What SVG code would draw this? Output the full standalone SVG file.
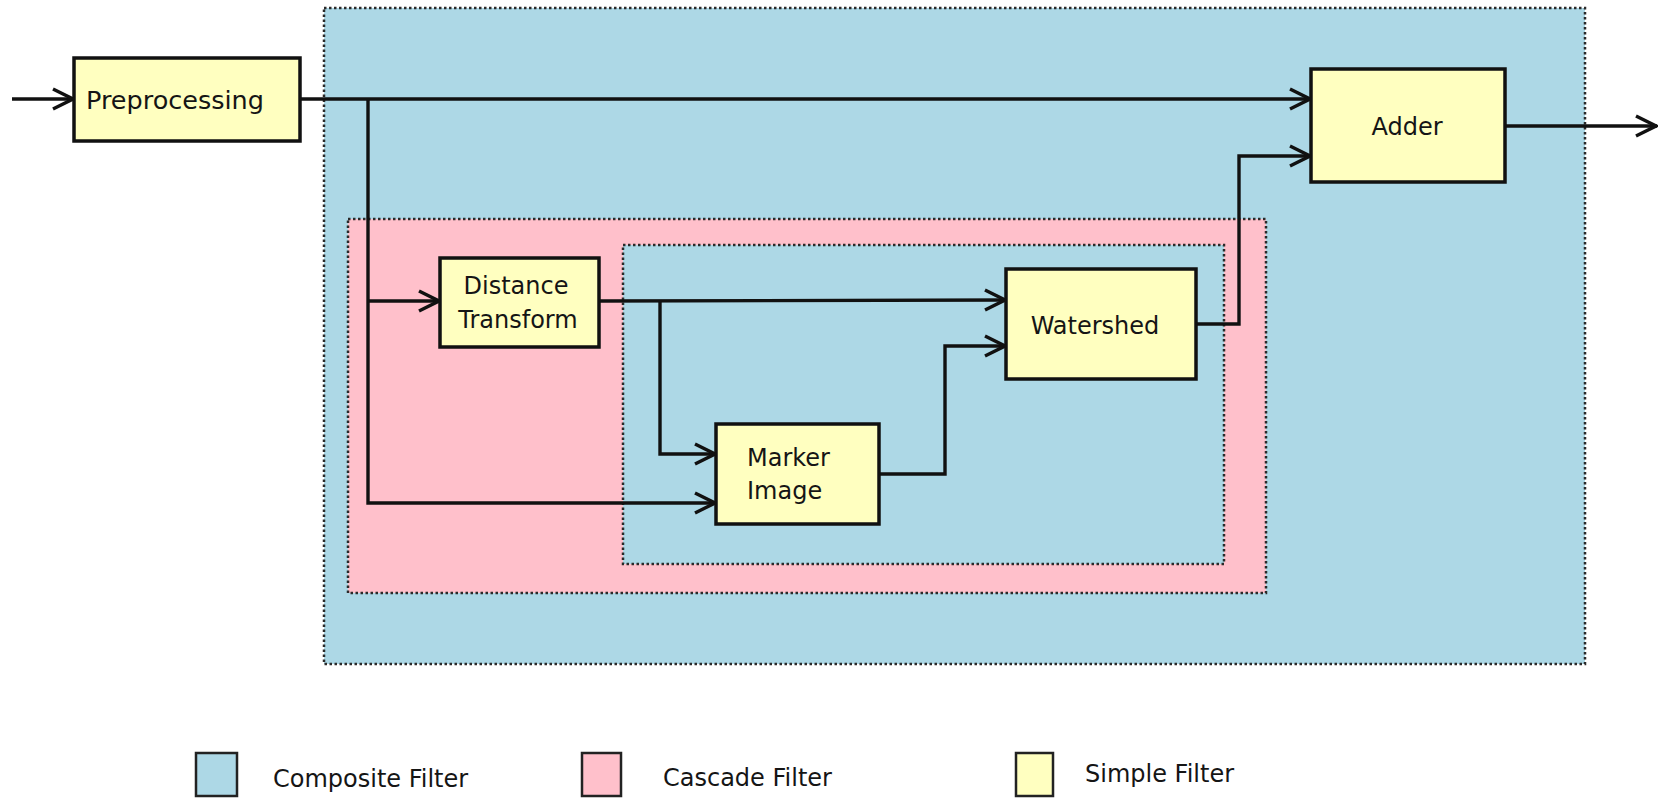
<svg xmlns="http://www.w3.org/2000/svg" width="1659" height="798" viewBox="0 0 1659 798">
<style>
.comp{fill:#add8e6;stroke:#2a2a2a;stroke-width:2.5;stroke-dasharray:2.5,2.5}
.casc{fill:#ffc0cb;stroke:#2a2a2a;stroke-width:2.5;stroke-dasharray:2.5,2.5}
.node{fill:#ffffc0;stroke:#111;stroke-width:3.5}
.lbl{font-family:"DejaVu Sans",sans-serif;font-size:24px;fill:#151515}
.conn{fill:none;stroke:#111;stroke-width:3.4}
.leg{stroke:#222;stroke-width:2.5}
</style>
<defs>
<marker id="arr" viewBox="0 0 24 24" refX="23" refY="12" markerWidth="24" markerHeight="24" markerUnits="userSpaceOnUse" orient="auto">
<path d="M2,2 L22,12 L2,22" fill="none" stroke="#111" stroke-width="3.4"/>
</marker>
</defs>
<rect width="1659" height="798" fill="#fff"/>
<g id="containers">
<rect id="composite-outer" class="comp" x="324" y="8" width="1261" height="656"/>
<rect id="cascade" class="casc" x="348" y="219" width="918" height="374"/>
<rect id="composite-inner" class="comp" x="623" y="245" width="601" height="319"/>
</g>
<g id="connectors">
<path class="conn" d="M12,99 L74,99" marker-end="url(#arr)"/>
<path class="conn" d="M300,99 L1311,99" marker-end="url(#arr)"/>
<path class="conn" d="M368,99 L368,503 L716,503" marker-end="url(#arr)"/>
<path class="conn" d="M368,301 L440,301" marker-end="url(#arr)"/>
<path class="conn" d="M600,301 L1006,300" marker-end="url(#arr)"/>
<path class="conn" d="M660,301 L660,454 L716,454" marker-end="url(#arr)"/>
<path class="conn" d="M879,474 L945,474 L945,346 L1006,346" marker-end="url(#arr)"/>
<path class="conn" d="M1196,324 L1239,324 L1239,156 L1311,156" marker-end="url(#arr)"/>
<path class="conn" d="M1505,126 L1657,126" marker-end="url(#arr)"/>
</g>
<g id="preprocessing">
<rect class="node" x="74" y="58" width="226" height="83"/>
<text class="lbl" x="86" y="109" style="font-size:25.5px">Preprocessing</text>
</g>
<g id="adder">
<rect class="node" x="1311" y="69" width="194" height="113"/>
<text class="lbl" x="1407" y="135" text-anchor="middle">Adder</text>
</g>
<g id="distance-transform">
<rect class="node" x="440" y="258" width="159" height="89"/>
<text class="lbl" x="516" y="294" text-anchor="middle">Distance</text>
<text class="lbl" x="518" y="328" text-anchor="middle">Transform</text>
</g>
<g id="marker-image">
<rect class="node" x="716" y="424" width="163" height="100"/>
<text class="lbl" x="747" y="466">Marker</text>
<text class="lbl" x="747" y="499">Image</text>
</g>
<g id="watershed">
<rect class="node" x="1006" y="269" width="190" height="110"/>
<text class="lbl" x="1095" y="334" text-anchor="middle">Watershed</text>
</g>
<g id="legend">
<rect class="leg" x="196" y="753" width="41" height="43" fill="#add8e6"/>
<text class="lbl" x="273" y="787">Composite Filter</text>
<rect class="leg" x="582" y="753" width="39" height="43" fill="#ffc0cb"/>
<text class="lbl" x="663" y="786">Cascade Filter</text>
<rect class="leg" x="1016" y="753" width="37" height="43" fill="#ffffc0"/>
<text class="lbl" x="1085" y="782">Simple Filter</text>
</g>
</svg>
